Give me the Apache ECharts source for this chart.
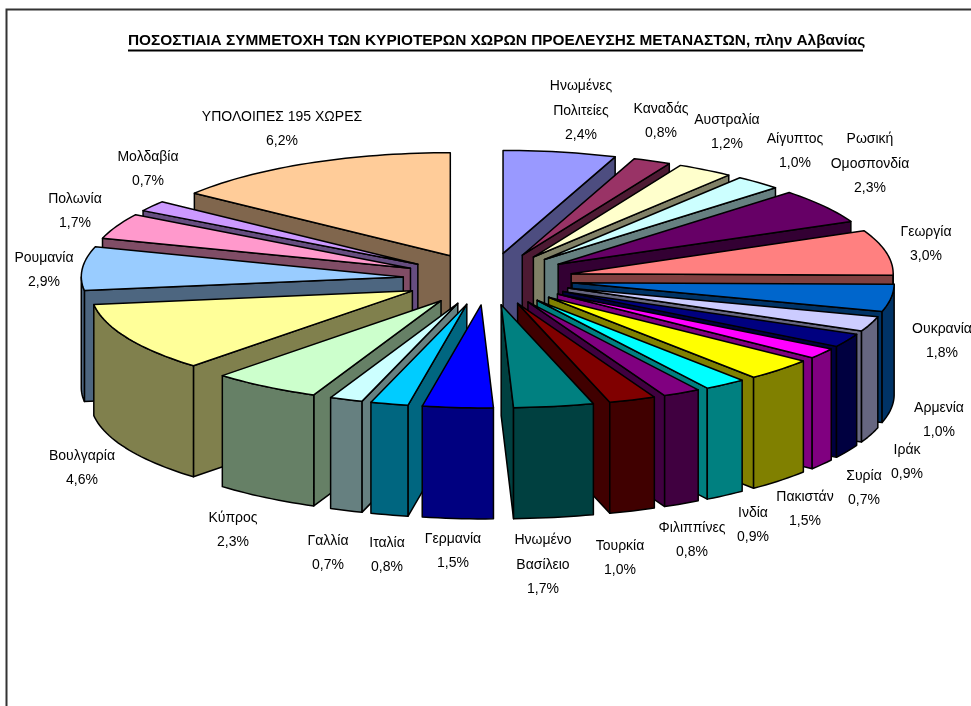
<!DOCTYPE html>
<html>
<head>
<meta charset="utf-8">
<title>Ποσοστιαία συμμετοχή</title>
<script src="https://cdn.jsdelivr.net/npm/echarts@6/dist/echarts.min.js"></script>
<style>
  html, body { margin: 0; padding: 0; background: #fff; }
  #chart { width: 971px; height: 706px; }
</style>
</head>
<body>
<div id="chart"></div>
<script>
const chartTitle = 'ΠΟΣΟΣΤΙΑΙΑ ΣΥΜΜΕΤΟΧΗ ΤΩΝ ΚΥΡΙΟΤΕΡΩΝ ΧΩΡΩΝ ΠΡΟΕΛΕΥΣΗΣ ΜΕΤΑΝΑΣΤΩΝ, πλην Αλβανίας'

const categories = [
  'Ηνωμένες\nΠολιτείες', 'Καναδάς', 'Αυστραλία', 'Αίγυπτος', 'Ρωσική\nΟμοσπονδία', 'Γεωργία',
  'Ουκρανία', 'Αρμενία', 'Ιράκ', 'Συρία', 'Πακιστάν', 'Ινδία', 'Φιλιππίνες', 'Τουρκία',
  'Ηνωμένο\nΒασίλειο', 'Γερμανία', 'Ιταλία', 'Γαλλία', 'Κύπρος', 'Βουλγαρία', 'Ρουμανία',
  'Πολωνία', 'Μολδαβία', 'ΥΠΟΛΟΙΠΕΣ 195 ΧΩΡΕΣ'
]

const shares = [2.4, 0.8, 1.2, 1.0, 2.3, 3.0, 1.8, 1.0, 0.9, 0.7, 1.5, 0.9, 0.8, 1.0, 1.7, 1.5, 0.8, 0.7, 2.3, 4.6, 2.9, 1.7, 0.7, 6.2]

const sliceColors = [
  '#9999ff', '#993366', '#ffffcc', '#ccffff', '#660066', '#ff8080', '#0066cc', '#ccccff',
  '#000080', '#ff00ff', '#ffff00', '#00ffff', '#800080', '#800000', '#008080', '#0000ff',
  '#00ccff', '#ccffff', '#ccffcc', '#ffff99', '#99ccff', '#ff99cc', '#cc99ff', '#ffcc99'
]

// centre of each label block, in page pixels
const labelAnchors = [
  [581, 111], [661, 121], [727, 132], [795, 151], [870, 164], [926, 244],
  [942, 341], [939, 420], [907, 462], [864, 488], [805, 509], [753, 525],
  [692, 540], [620, 558], [543, 565], [453, 551], [387, 555], [328, 553],
  [233, 530], [82, 468], [44, 270], [75, 211], [148, 169], [282, 129]
]

const pie = { cx: 488, cy: 279, rx: 322, ry: 103, explodeX: 85, explodeY: 26, depth: 111, frontSkew: 0.022 }
const labelFont = '14px "Liberation Sans", Arial, sans-serif'

const total = shares.reduce((sum, value) => sum + value, 0)
const DEG = Math.PI / 180

const darken = (hex) => {
  const channel = (at) => Math.round(parseInt(hex.slice(at, at + 2), 16) / 2)
  return `rgb(${channel(1)},${channel(3)},${channel(5)})`
}

// angles run clockwise from 12 o'clock
const slices = (() => {
  let running = 0
  return shares.map((value, index) => {
    const start = (running / total) * 360
    running += value
    const end = (running / total) * 360
    const mid = ((start + end) / 2) * DEG
    return {
      index,
      start,
      end,
      apexX: pie.cx + pie.explodeX * Math.sin(mid),
      apexY: pie.cy - pie.explodeY * Math.cos(mid)
    }
  })
})()

// painter's order: back of the pie first
const drawOrder = slices.slice().sort((a, b) => a.apexY - b.apexY).map((slice) => [slice.index])

const rimPoint = (slice, angle) => {
  const y = slice.apexY - pie.ry * Math.cos(angle * DEG)
  const skew = pie.frontSkew * Math.max(0, y - pie.cy)
  return [slice.apexX + pie.rx * Math.sin(angle * DEG) + skew, y]
}

const arcPoints = (slice, from, to) => {
  const steps = Math.max(2, Math.ceil((to - from) / 1.5))
  return Array.from({ length: steps + 1 }, (_, i) => rimPoint(slice, from + ((to - from) * i) / steps))
}

const drop = (point) => [point[0], point[1] + pie.depth]

const facePolygon = (points, fill) => ({
  type: 'polygon',
  shape: { points },
  style: { fill, stroke: '#000', lineWidth: 1.5, lineJoin: 'round' }
})

const renderSlice = (params, api) => {
  const slice = slices[api.value(0)]
  const color = sliceColors[slice.index]
  const shade = darken(color)
  const apex = [slice.apexX, slice.apexY]
  const children = []

  const cutFace = (angle) => {
    const rim = rimPoint(slice, angle)
    children.push(facePolygon([apex, rim, drop(rim), drop(apex)], shade))
  }
  if (Math.sin(slice.start * DEG) < 0) cutFace(slice.start)
  if (Math.sin(slice.end * DEG) > 0) cutFace(slice.end)

  const wallFrom = Math.max(slice.start, 90)
  const wallTo = Math.min(slice.end, 270)
  if (wallTo > wallFrom) {
    const rim = arcPoints(slice, wallFrom, wallTo)
    children.push(facePolygon(rim.concat(rim.map(drop).reverse()), shade))
  }

  children.push(facePolygon([apex].concat(arcPoints(slice, slice.start, slice.end)), color))
  return { type: 'group', children }
}

const renderLabel = (params, api) => {
  const index = api.value(0)
  const anchor = labelAnchors[index]
  const percent = shares[index].toFixed(1).replace('.', ',') + '%'
  return {
    type: 'text',
    style: {
      text: categories[index] + '\n' + percent,
      x: anchor[0],
      y: anchor[1],
      align: 'center',
      verticalAlign: 'middle',
      font: labelFont,
      lineHeight: 24.4,
      fill: '#000'
    }
  }
}

const chart = echarts.init(document.getElementById('chart'), null, { renderer: 'canvas' })

chart.setOption({
  animation: false,
  backgroundColor: '#fff',
  title: {
    text: chartTitle,
    left: 123,
    top: 28,
    textStyle: { color: '#000', fontSize: 15.4, fontWeight: 'bold', fontFamily: '"Liberation Sans", Arial, sans-serif' }
  },
  graphic: [
    { type: 'polyline', silent: true, shape: { points: [[6.5, 706], [6.5, 9.5], [971, 9.5]] }, style: { stroke: '#333', lineWidth: 2, fill: null } },
    { type: 'line', silent: true, shape: { x1: 128, y1: 50.5, x2: 863, y2: 50.5 }, style: { stroke: '#000', lineWidth: 1.8 } }
  ],
  series: [
    { type: 'custom', coordinateSystem: 'none', silent: true, renderItem: renderSlice, data: drawOrder },
    { type: 'custom', coordinateSystem: 'none', silent: true, z: 5, renderItem: renderLabel, data: categories.map((_, index) => [index]) }
  ]
})
</script>
</body>
</html>
